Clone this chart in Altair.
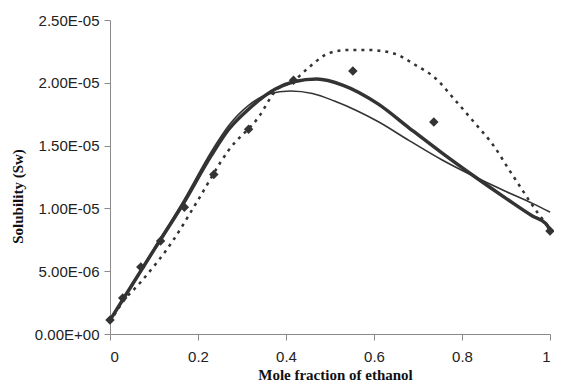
import altair as alt
import pandas as pd

# Experimental data (diamonds)
exp_x = [0.0, 0.029, 0.070, 0.115, 0.169, 0.236, 0.315, 0.417, 0.552, 0.736, 1.0]
exp_y = [1.11e-6, 2.87e-6, 5.33e-6, 7.40e-6, 1.01e-5, 1.27e-5, 1.63e-5, 2.02e-5, 2.094e-5, 1.688e-5, 8.2e-6]

# Thick solid model curve
thick_x = [0.0, 0.05, 0.10, 0.167, 0.23, 0.27, 0.315, 0.376, 0.42, 0.47, 0.53, 0.61, 0.68, 0.755, 0.83, 0.90, 0.96, 0.99, 1.0]
thick_y = [1.11e-6, 3.9e-6, 6.7e-6, 1.04e-5, 1.42e-5, 1.63e-5, 1.79e-5, 1.95e-5, 2.01e-5, 2.03e-5, 1.98e-5, 1.83e-5, 1.64e-5, 1.44e-5, 1.25e-5, 1.08e-5, 9.4e-6, 8.8e-6, 8.3e-6]

# Thin solid model curve
thin_x = [0.0, 0.05, 0.10, 0.167, 0.23, 0.27, 0.315, 0.36, 0.41, 0.46, 0.51, 0.56, 0.61, 0.68, 0.755, 0.83, 0.90, 0.96, 1.0]
thin_y = [1.11e-6, 3.95e-6, 6.8e-6, 1.06e-5, 1.45e-5, 1.66e-5, 1.82e-5, 1.91e-5, 1.935e-5, 1.915e-5, 1.855e-5, 1.78e-5, 1.69e-5, 1.54e-5, 1.385e-5, 1.25e-5, 1.135e-5, 1.04e-5, 9.7e-6]

# Dotted model curve
dot_x = [0.0, 0.029, 0.068, 0.144, 0.196, 0.270, 0.338, 0.378, 0.414, 0.453, 0.498, 0.543, 0.588, 0.642, 0.694, 0.739, 0.784, 0.829, 0.874, 0.903, 0.937, 0.973, 1.0]
dot_y = [9.6e-7, 2.55e-6, 4.06e-6, 7.48e-6, 1.043e-5, 1.465e-5, 1.728e-5, 1.943e-5, 2.006e-5, 2.126e-5, 2.237e-5, 2.261e-5, 2.261e-5, 2.237e-5, 2.142e-5, 2.038e-5, 1.863e-5, 1.68e-5, 1.489e-5, 1.33e-5, 1.147e-5, 9.6e-6, 8.4e-6]

x_ticks = [0, 0.2, 0.4, 0.6, 0.8, 1.0]
y_ticks = [0, 5e-6, 1e-5, 1.5e-5, 2e-5, 2.5e-5]
y_tick_labels = ["0.00E+00", "5.00E-06", "1.00E-05", "1.50E-05", "2.00E-05", "2.50E-05"]

exp_df = pd.DataFrame({"x": exp_x, "y": exp_y})
thick_df = pd.DataFrame({"x": thick_x, "y": thick_y})
thin_df = pd.DataFrame({"x": thin_x, "y": thin_y})
dot_df = pd.DataFrame({"x": dot_x, "y": dot_y})

ink = "#333333"
axis_col = "#8a8a8a"

label_arr = "[" + ",".join("'" + s + "'" for s in y_tick_labels) + "]"

x_enc = alt.X(
    "x:Q",
    scale=alt.Scale(domain=[0, 1], nice=False),
    axis=alt.Axis(
        values=x_ticks,
        format="~g",
        title="Mole fraction of ethanol",
        titleFont="Liberation Serif",
        titleFontSize=15,
        titleFontWeight="bold",
        titleColor="#111111",
        titleBaseline="alphabetic",
        titleX=225,
        titleY=45,
        labelFont="Liberation Sans",
        labelFontSize=15,
        labelColor="#222222",
        labelPadding=9,
        tickSize=6,
        tickColor=axis_col,
        domainColor=axis_col,
        grid=False,
    ),
)
y_enc = alt.Y(
    "y:Q",
    scale=alt.Scale(domain=[0, 2.5e-5], nice=False),
    axis=alt.Axis(
        values=y_ticks,
        labelExpr=label_arr + "[round(datum.value/5e-6)]",
        title="Solubility (Sw)",
        titleFont="Liberation Serif",
        titleFontSize=15,
        titleFontWeight="bold",
        titleColor="#111111",
        titleAngle=270,
        titleBaseline="alphabetic",
        titleAlign="center",
        titleX=-88,
        titleY=176,
        labelFont="Liberation Sans",
        labelFontSize=15,
        labelColor="#222222",
        labelPadding=5,
        tickSize=6,
        tickColor=axis_col,
        domainColor=axis_col,
        grid=False,
    ),
)

dotted = alt.Chart(dot_df).mark_line(
    color=ink, strokeWidth=2.5, strokeDash=[3, 5], interpolate="monotone"
).encode(x=x_enc, y=y_enc)

thin = alt.Chart(thin_df).mark_line(
    color=ink, strokeWidth=1.6, interpolate="monotone"
).encode(x=x_enc, y=y_enc)

thick = alt.Chart(thick_df).mark_line(
    color=ink, strokeWidth=3.5, interpolate="monotone"
).encode(x=x_enc, y=y_enc)

pts = alt.Chart(exp_df).mark_point(
    shape="diamond", filled=True, color=ink, opacity=1, size=90
).encode(x=x_enc, y=y_enc)

chart = (
    alt.layer(dotted, thin, thick, pts)
    .properties(
        width=440,
        height=314,
        autosize=alt.AutoSizeParams(type="none"),
        padding={"left": 102, "top": 12, "right": 4, "bottom": 50},
        background="white",
    )
    .configure_view(stroke=None)
)

chart.save("out.html", embed_options={"renderer": "svg", "actions": False})
